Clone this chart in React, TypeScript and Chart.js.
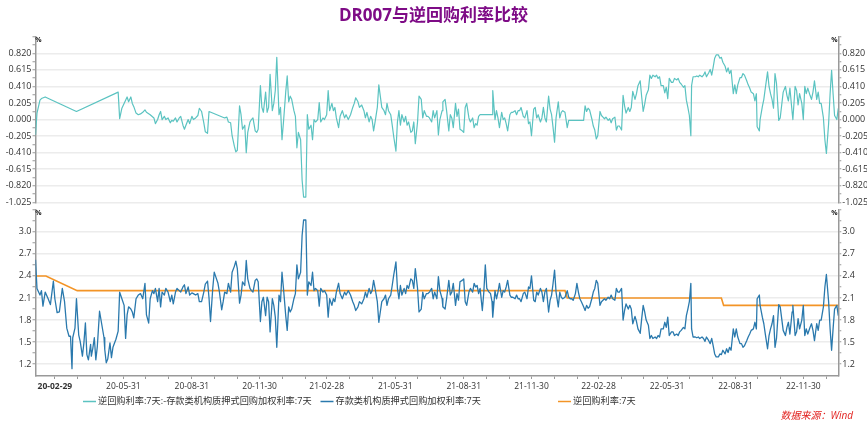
import React, { useEffect, useRef } from 'react';
import { Chart, registerables } from 'chart.js';

Chart.register(...registerables);

const FONT = "'Open Sans', 'Noto Sans CJK SC', sans-serif";
const W = 867;
const H = 421;

const TITLE = 'DR007与逆回购利率比较';
const SPREAD_LABEL = '逆回购利率:7天:-存款类机构质押式回购加权利率:7天';
const DR_LABEL = '存款类机构质押式回购加权利率:7天';
const REPO_LABEL = '逆回购利率:7天';
const SOURCE = '数据来源：Wind';

const TEAL = '#5bc3c1';
const BLUE = '#2a79ad';
const ORANGE = '#f39426';

// [month-day, DR007 (%), spread = reverse repo - DR007 (null = no value that day)]
type Row = [string, number, number | null];

const rows2020: Row[] = [
  ['02-03',2.62,-0.19],['02-05',2.23,0.08],['02-09',2.14,0.24],['02-11',2.20,0.26],['02-13',1.99,null],['02-16',2.18,0.28],
  ['02-20',2.09,null],['02-23',2.01,null],['02-27',2.33,null],['02-29',2.09,null],['03-03',1.90,null],['03-06',1.91,null],
  ['03-10',2.23,null],['03-13',2.05,null],['03-16',1.69,null],['03-19',1.58,null],['03-21',1.58,null],['03-23',1.14,null],
  ['03-24',1.56,null],['03-27',1.69,null],['03-29',2.09,0.10],['04-01',1.60,null],['04-03',1.51,null],['04-06',1.31,null],
  ['04-08',1.49,null],['04-10',1.76,null],['04-12',1.33,null],['04-14',1.26,null],['04-17',1.47,null],['04-18',1.31,null],
  ['04-20',1.42,null],['04-22',1.56,null],['04-24',1.26,null],['04-26',1.44,null],['04-29',1.92,null],['05-02',1.74,null],
  ['05-05',1.56,null],['05-06',1.40,null],['05-08',1.22,null],['05-10',1.27,null],['05-13',1.49,null],['05-15',1.29,null],
  ['05-17',1.43,null],['05-21',1.54,null],['05-24',1.65,0.34],['05-26',2.18,0.01],['05-29',2.09,0.14],['06-01',2.00,null],
  ['06-03',1.55,0.24],['06-05',1.87,0.28],['06-07',1.98,0.22],['06-10',1.95,0.28],['06-12',1.91,0.20],['06-14',1.83,0.16],
  ['06-17',2.09,0.08],['06-20',2.14,0.06],['06-23',2.16,0.07],['06-26',2.09,0.09],['06-29',2.30,0.12],['07-01',1.87,0.09],
  ['07-04',1.76,null],['07-06',2.09,0.06],['07-09',2.20,null],['07-11',2.16,0.02],['07-13',2.23,-0.05],['07-16',2.05,0.00],
  ['07-18',2.23,0.06],['07-20',1.98,0.10],['07-22',2.18,0.00],['07-25',2.14,0.04],['07-27',2.23,0.00],['07-30',2.18,0.02],
  ['08-02',2.05,-0.04],['08-04',2.14,-0.01],['08-06',2.02,-0.02],['08-09',2.18,0.02],['08-11',2.23,-0.03],['08-14',2.20,0.02],
  ['08-16',2.18,0.04],['08-19',2.25,-0.07],['08-21',2.28,-0.12],['08-23',2.16,-0.07],['08-26',2.25,0.00],['08-28',2.14,-0.05],
  ['08-31',2.17,0.04],['09-02',2.16,0.00],['09-05',2.14,0.02],['09-08',2.16,0.05],['09-10',2.05,0.14],['09-13',2.05,0.10],
  ['09-16',2.18,-0.04],['09-18',2.29,-0.15],['09-21',2.33,-0.17],['09-23',2.10,0.10],['09-25',1.78,null],['09-28',2.23,null],
  ['09-30',2.45,null],['10-02',2.39,null],['10-05',2.30,null],['10-07',2.18,null],['10-10',1.94,null],['10-12',2.05,null],
  ['10-14',2.18,0.02],['10-17',2.16,0.03],['10-19',2.30,-0.03],['10-22',2.18,-0.04],['10-24',2.45,-0.20],['10-27',2.53,-0.33],
  ['10-29',2.60,-0.40],['10-31',2.50,-0.38],['11-03',2.03,0.17],['11-05',2.14,0.06],['11-07',2.32,-0.12],['11-10',2.27,-0.07],
  ['11-12',2.61,-0.41],['11-14',2.36,-0.16],['11-17',2.23,-0.03],['11-19',2.20,0.00],['11-21',2.18,0.02],['11-24',2.34,-0.14],
  ['11-26',2.36,-0.16],['11-28',2.32,-0.12],['12-01',1.78,0.42],['12-03',2.05,0.15],['12-05',2.11,0.09],['12-08',1.86,0.34],
  ['12-10',2.11,0.09],['12-12',2.05,0.15],['12-14',1.64,0.56],['12-17',2.09,0.11],['12-19',2.00,0.20],['12-21',1.84,0.36],
  ['12-23',1.43,0.77],['12-26',2.14,0.06],['12-28',2.05,0.15],['12-30',2.45,-0.25],
];

const rows2021: Row[] = [
  ['01-01',2.23,-0.03],['01-04',1.86,0.34],['01-06',1.66,0.54],['01-08',1.98,0.22],['01-10',1.91,0.29],['01-12',1.95,0.25],
  ['01-15',2.09,0.11],['01-17',2.16,0.04],['01-19',2.55,-0.35],['01-21',2.36,-0.16],['01-24',2.45,-0.25],['01-26',2.95,-0.75],
  ['01-28',3.16,-0.96],['01-31',3.16,-0.96],['02-02',2.14,0.06],['02-04',2.32,-0.12],['02-07',2.27,-0.07],['02-09',2.45,-0.25],
  ['02-11',2.20,0.00],['02-13',2.23,-0.03],['02-16',2.20,0.00],['02-18',1.99,0.21],['02-20',2.23,-0.03],['02-23',2.18,0.02],
  ['02-25',2.20,0.00],['02-28',2.14,0.06],['03-02',1.84,0.36],['03-04',2.09,0.11],['03-07',2.00,0.20],['03-09',2.09,0.11],
  ['03-11',2.05,0.15],['03-13',2.18,0.02],['03-16',2.30,-0.10],['03-18',2.16,0.04],['03-21',2.09,0.11],['03-24',2.18,0.02],
  ['03-26',2.14,0.06],['03-29',2.20,0.00],['04-01',2.14,0.06],['04-04',2.05,0.15],['04-06',2.00,0.20],['04-08',1.93,0.27],
  ['04-11',1.98,0.22],['04-13',2.05,0.15],['04-16',2.02,0.18],['04-19',2.09,0.11],['04-21',2.18,0.02],['04-23',2.11,0.09],
  ['04-26',2.23,-0.03],['04-28',2.16,0.04],['04-30',2.20,0.00],['05-02',2.34,-0.14],['05-04',2.23,-0.03],['05-07',2.05,0.15],
  ['05-09',1.77,0.43],['05-11',1.91,0.29],['05-13',2.05,0.15],['05-16',2.09,0.11],['05-18',2.14,0.06],['05-20',2.00,0.20],
  ['05-22',2.09,0.11],['05-25',2.14,0.06],['05-27',2.27,-0.07],['05-29',2.41,-0.21],['06-01',2.59,-0.39],['06-03',2.23,-0.03],
  ['06-05',2.09,0.11],['06-07',2.27,-0.07],['06-09',2.14,0.06],['06-12',2.23,-0.03],['06-14',2.16,0.04],['06-16',2.27,-0.07],
  ['06-18',2.23,-0.03],['06-21',2.36,-0.16],['06-23',2.34,-0.14],['06-25',2.23,-0.03],['06-27',2.50,-0.30],['06-30',2.23,-0.03],
  ['07-02',1.91,0.29],['07-05',1.95,0.25],['07-07',2.18,0.02],['07-09',2.09,0.11],['07-12',2.16,0.04],['07-14',2.16,0.04],
  ['07-16',2.18,0.02],['07-19',2.23,-0.03],['07-21',2.09,0.11],['07-23',2.18,0.02],['07-26',2.09,0.11],['07-28',2.39,-0.19],
  ['07-30',2.20,0.00],['08-02',2.09,0.11],['08-03',1.98,0.22],['08-06',1.95,0.25],['08-08',2.09,0.11],['08-11',2.34,-0.14],
  ['08-13',2.14,0.06],['08-15',2.18,0.02],['08-17',2.30,-0.10],['08-20',2.00,0.20],['08-22',2.16,0.04],['08-24',2.07,0.13],
  ['08-26',2.32,-0.12],['08-29',2.34,-0.14],['08-31',2.36,-0.16],['09-02',2.05,0.15],['09-04',2.00,0.20],['09-07',2.18,0.02],
  ['09-09',2.23,-0.03],['09-12',2.18,0.02],['09-14',2.30,-0.10],['09-16',2.25,-0.05],['09-18',2.27,-0.07],['09-20',2.16,0.04],
  ['09-22',2.23,0.06],['09-25',1.93,null],['09-27',2.18,null],['09-29',2.55,null],['10-01',2.23,null],['10-04',2.18,null],
  ['10-06',2.16,null],['10-08',2.05,0.06],['10-09',1.84,0.36],['10-12',2.20,0.00],['10-14',2.09,0.11],['10-16',2.18,0.02],
  ['10-18',2.30,-0.10],['10-21',2.11,0.09],['10-23',2.20,0.00],['10-25',2.18,0.02],['10-27',2.25,-0.05],['10-29',2.34,-0.14],
  ['11-01',2.14,0.06],['11-03',2.11,0.09],['11-05',2.11,0.09],['11-08',2.09,0.11],['11-10',2.14,0.06],['11-12',2.09,0.11],
  ['11-14',2.09,0.11],['11-16',2.05,0.15],['11-19',2.16,0.04],['11-21',2.18,0.02],['11-24',2.09,0.11],['11-26',2.25,-0.05],
  ['11-28',2.23,-0.03],['11-30',2.40,-0.20],['12-03',2.07,0.13],['12-05',2.05,0.15],['12-07',2.18,0.02],['12-09',2.14,0.06],
  ['12-12',2.23,-0.03],['12-14',2.18,0.02],['12-16',2.05,0.15],['12-18',2.18,0.02],['12-20',2.23,-0.03],['12-23',1.91,0.29],
  ['12-25',2.07,0.13],['12-27',2.14,0.06],['12-29',2.30,-0.10],['12-31',2.48,-0.28],
];

const rows2022: Row[] = [
  ['01-02',2.18,0.02],['01-05',1.98,0.22],['01-07',2.18,0.02],['01-09',2.11,0.09],['01-11',2.09,0.11],['01-14',2.11,0.09],
  ['01-17',2.20,-0.10],['01-19',2.11,-0.01],['01-21',2.09,null],['01-23',2.09,null],['01-25',2.07,null],['01-28',2.16,null],
  ['01-30',2.30,null],['02-01',2.18,null],['02-03',2.09,null],['02-05',2.05,null],['02-08',1.98,-0.01],['02-10',1.93,0.17],
  ['02-12',2.00,0.10],['02-14',1.96,0.14],['02-16',1.98,0.12],['02-19',2.09,0.01],['02-21',2.18,-0.08],['02-23',2.23,-0.13],
  ['02-25',2.34,-0.24],['02-27',2.30,-0.20],['03-02',2.00,0.10],['03-04',2.05,0.05],['03-06',2.07,0.03],['03-08',2.09,0.01],
  ['03-10',2.07,0.03],['03-13',2.11,-0.01],['03-15',2.09,0.01],['03-17',2.14,-0.04],['03-19',2.09,0.01],['03-22',2.07,0.03],
  ['03-24',2.23,-0.13],['03-26',2.18,-0.08],['03-28',2.18,-0.08],['03-31',2.23,-0.13],['04-02',1.80,0.30],['04-04',1.93,0.17],
  ['04-06',2.02,0.08],['04-09',1.95,0.15],['04-11',2.00,0.10],['04-13',1.95,0.15],['04-15',1.75,0.35],['04-18',1.85,0.25],
  ['04-20',1.78,0.32],['04-22',1.68,0.42],['04-25',1.62,0.48],['04-27',1.82,0.28],['04-29',2.00,0.10],['05-01',1.91,0.19],
  ['05-03',1.80,0.30],['05-06',1.73,0.37],['05-08',1.55,0.55],['05-10',1.59,0.51],['05-12',1.55,0.55],['05-15',1.57,0.53],
  ['05-17',1.55,0.55],['05-19',1.59,0.51],['05-21',1.57,0.53],['05-23',1.68,0.42],['05-26',1.68,0.42],['05-28',1.77,0.33],
  ['05-30',1.70,0.40],['06-01',1.84,0.26],['06-03',1.59,0.51],['06-06',1.64,0.46],['06-08',1.64,0.46],['06-10',1.59,0.51],
  ['06-13',1.61,0.49],['06-15',1.59,0.51],['06-17',1.64,0.46],['06-19',1.66,0.44],['06-22',1.70,0.40],['06-24',1.68,0.42],
  ['06-26',1.86,0.24],['06-28',1.95,0.15],['06-30',2.05,0.05],['07-02',2.30,-0.20],['07-03',1.68,0.42],['07-05',1.57,0.53],
  ['07-08',1.57,0.53],['07-10',1.56,0.54],['07-12',1.57,0.53],['07-14',1.55,0.55],['07-17',1.57,0.53],['07-19',1.55,0.55],
  ['07-21',1.51,0.59],['07-23',1.57,0.53],['07-26',1.52,0.58],['07-28',1.48,0.62],['07-30',1.55,0.55],['08-01',1.45,0.65],
  ['08-03',1.34,0.76],['08-05',1.30,0.80],['08-08',1.30,0.80],['08-10',1.34,0.76],['08-12',1.33,0.77],['08-14',1.39,0.71],
  ['08-17',1.34,0.66],['08-19',1.41,0.59],['08-21',1.36,0.64],['08-23',1.43,0.57],['08-25',1.39,0.61],['08-28',1.68,0.32],
  ['08-30',1.57,0.43],['09-01',1.68,0.32],['09-03',1.57,0.43],['09-06',1.48,0.52],['09-08',1.48,0.52],['09-10',1.43,0.57],
  ['09-12',1.45,0.55],['09-15',1.52,0.48],['09-17',1.57,0.43],['09-19',1.61,0.39],['09-21',1.66,0.34],['09-24',1.68,0.32],
  ['09-26',1.77,0.23],['09-28',1.68,0.32],['09-29',2.09,-0.09],['10-02',2.14,-0.14],['10-03',2.00,0.00],['10-06',1.84,0.16],
  ['10-08',1.75,0.25],['10-10',1.61,0.39],['10-13',1.41,0.59],['10-15',1.59,0.41],['10-17',1.68,0.32],['10-19',1.75,0.25],
  ['10-21',1.86,0.14],['10-23',1.43,0.57],['10-25',1.55,0.45],['10-28',2.01,-0.01],['10-30',1.98,0.02],['11-01',1.82,0.18],
  ['11-03',1.66,0.34],['11-06',1.59,0.41],['11-08',1.70,0.30],['11-10',1.77,0.23],['11-12',1.61,0.39],['11-15',1.91,0.09],
  ['11-16',2.00,0.00],['11-19',1.59,0.41],['11-21',1.64,0.36],['11-23',1.82,0.18],['11-25',1.68,0.32],['11-28',1.80,0.20],
  ['11-30',2.00,0.00],['12-02',1.59,0.41],['12-04',1.68,0.32],['12-06',1.61,0.39],['12-09',1.70,0.30],['12-11',1.75,0.25],
  ['12-13',1.66,0.34],['12-15',1.52,0.48],['12-18',1.75,0.25],['12-20',1.66,0.34],['12-22',1.80,0.20],['12-24',1.80,0.20],
  ['12-27',1.98,0.02],['12-29',2.25,-0.25],['12-31',2.42,-0.42],
];

const rows2023: Row[] = [
  ['01-03',2.05,-0.05],['01-05',1.68,0.32],['01-07',1.39,0.61],['01-09',1.68,0.32],['01-11',1.95,0.05],['01-14',2.00,0.00],
  ['01-16',1.86,0.14],
];

// 7-day reverse repo rate (step series)
const repoDates = ['2020-02-03','2020-02-17','2020-03-30','2022-01-14','2022-01-17','2022-08-12','2022-08-15','2023-01-16'];
const repoValues = [2.4, 2.4, 2.2, 2.2, 2.1, 2.1, 2.0, 2.0];

// axis tick labels
const xTickLabels = ['20-02-29','20-05-31','20-08-31','20-11-30','21-02-28','21-05-31','21-08-31','21-11-30','22-02-28','22-05-31','22-08-31','22-11-30'];
const topAxisTicks = [-1.025, -0.82, -0.615, -0.41, -0.205, 0, 0.205, 0.41, 0.615, 0.82];
const TOP_MAX = 1.025;
const TOP_MIN = -1.025;
const bottomAxisTicks = [1.2, 1.5, 1.8, 2.1, 2.4, 2.7, 3.0];
const BOT_MAX = 3.3;
const BOT_MIN = 1.04;

const BASE = Date.UTC(2020, 0, 1);
const dayOf = (s: string) => {
  const [y, m, d] = s.split('-').map(Number);
  return Math.round((Date.UTC(y, m - 1, d) - BASE) / 86400000);
};

const allRows: Row[] = [
  ...rows2020.map((r) => ['2020-' + r[0], r[1], r[2]] as Row),
  ...rows2021.map((r) => ['2021-' + r[0], r[1], r[2]] as Row),
  ...rows2022.map((r) => ['2022-' + r[0], r[1], r[2]] as Row),
  ...rows2023.map((r) => ['2023-' + r[0], r[1], r[2]] as Row),
];

const X_MIN = dayOf(allRows[0][0]);
const X_MAX = dayOf(allRows[allRows.length - 1][0]);

const drData = allRows.map((r) => ({ x: dayOf(r[0]), y: r[1] }));
const spreadData = allRows.filter((r) => r[2] !== null).map((r) => ({ x: dayOf(r[0]), y: r[2] as number }));
const repoData = repoDates.map((d, i) => ({ x: dayOf(d), y: repoValues[i] }));

// x ticks: labelled quarter ends + unlabelled month ends
const xLabelMap = new Map<number, string>();
xTickLabels.forEach((l) => xLabelMap.set(dayOf('20' + l), l));
const xTickValues: number[] = [];
for (let y = 2020; y <= 2023; y++) {
  for (let m = 0; m < 12; m++) {
    const d = Math.round((Date.UTC(y, m + 1, 0) - BASE) / 86400000);
    if (d >= X_MIN && d <= X_MAX) xTickValues.push(d);
  }
}

function buildYTicks(majors: number[], max: number, digits: number) {
  const all = [...majors, max];
  const values: number[] = [];
  const labels: string[] = [];
  const major: boolean[] = [];
  all.forEach((v, i) => {
    const isM = i < majors.length;
    values.push(v);
    labels.push(isM ? v.toFixed(digits) : '');
    major.push(isM);
    if (i < all.length - 1) {
      values.push((v + all[i + 1]) / 2);
      labels.push('');
      major.push(false);
    }
  });
  return { values, labels, major };
}

const topY = buildYTicks(topAxisTicks, TOP_MAX, 3);
const botY = buildYTicks(bottomAxisTicks, BOT_MAX, 1);

function yAxis(position: 'left' | 'right', spec: { values: number[]; labels: string[]; major: boolean[] }, min: number, max: number) {
  return {
    type: 'linear',
    position,
    min,
    max,
    afterFit: (s: any) => {
      s.width = position === 'left' ? 35.5 : 28.7;
    },
    afterBuildTicks: (s: any) => {
      s.ticks = spec.values.map((v) => ({ value: v }));
    },
    ticks: {
      autoSkip: false,
      padding: 1,
      color: '#333',
      font: { size: 9, family: FONT },
      callback: (_v: any, i: number) => spec.labels[i],
    },
    grid: {
      drawOnChartArea: position === 'left',
      color: (c: any) => (spec.major[c.index] ? '#ececec' : 'rgba(0,0,0,0)'),
      lineWidth: 1.5,
      tickLength: 3,
      tickColor: '#999',
      tickWidth: 1,
    },
    border: { color: '#999', width: 1.5 },
  };
}

function xAxis(display: boolean) {
  return {
    type: 'linear',
    display,
    min: X_MIN,
    max: X_MAX,
    afterFit: (s: any) => {
      s.height = display ? 45 : 0;
    },
    afterBuildTicks: (s: any) => {
      s.ticks = xTickValues.map((v) => ({ value: v }));
    },
    ticks: {
      autoSkip: false,
      maxRotation: 0,
      minRotation: 0,
      padding: 2,
      color: '#333',
      font: (c: any) => ({ size: 8.5, family: FONT, weight: c.index === 0 ? 'bold' : 'normal' }),
      callback: (v: any) => xLabelMap.get(v) ?? '',
    },
    grid: { drawOnChartArea: false, drawTicks: true, tickLength: 3, tickColor: '#999' },
    border: { color: '#999', width: 1.5 },
  };
}

const pctPlugin = {
  id: 'pctMarks',
  afterDraw(chart: any) {
    const { ctx, chartArea: a } = chart;
    ctx.save();
    ctx.font = `bold 7px ${FONT}`;
    ctx.fillStyle = '#222';
    ctx.textAlign = 'center';
    ctx.textBaseline = 'middle';
    ctx.fillText('%', a.left + 3, a.top + 3.5);
    ctx.fillText('%', a.right - 4, a.top + 3.5);
    ctx.restore();
  },
};

const legendItems = [
  { label: SPREAD_LABEL, color: TEAL },
  { label: DR_LABEL, color: BLUE },
  { label: REPO_LABEL, color: ORANGE },
];

const footerPlugin = {
  id: 'footer',
  afterDraw(chart: any) {
    const { ctx, chartArea: a } = chart;
    ctx.save();
    const y = 401.5;
    ctx.font = `9.2px ${FONT}`;
    ctx.textBaseline = 'middle';
    ctx.textAlign = 'left';
    legendItems.forEach((it, i) => {
      const x0 = a.left + 47.5 + i * 237.5;
      ctx.strokeStyle = it.color;
      ctx.lineWidth = 1.5;
      ctx.beginPath();
      ctx.moveTo(x0, y);
      ctx.lineTo(x0 + 13, y);
      ctx.stroke();
      ctx.fillStyle = '#333';
      ctx.fillText(it.label, x0 + 15, y);
    });
    ctx.font = `italic 10px ${FONT}`;
    ctx.fillStyle = '#e2221f';
    ctx.textAlign = 'right';
    ctx.fillText(SOURCE, W - 14, 416.5);
    ctx.restore();
  },
};

export default function App() {
  const topRef = useRef<HTMLCanvasElement>(null);
  const botRef = useRef<HTMLCanvasElement>(null);

  useEffect(() => {
    const common = {
      animation: false,
      responsive: false,
      devicePixelRatio: 1,
      events: [],
    };
    const top = new Chart(topRef.current as HTMLCanvasElement, {
      type: 'line',
      data: {
        datasets: [
          {
            label: SPREAD_LABEL,
            data: spreadData,
            borderColor: TEAL,
            backgroundColor: TEAL,
            borderWidth: 1.2,
            pointRadius: 0,
            borderJoinStyle: 'round',
            yAxisID: 'y',
          },
        ],
      },
      options: {
        ...common,
        layout: { padding: { top: 0, bottom: H - 202.3, left: 0, right: 0 } },
        plugins: {
          legend: { display: false },
          tooltip: { enabled: false },
          title: {
            display: true,
            text: TITLE,
            color: '#7e0b86',
            font: { size: 17, weight: 'bold', family: FONT },
            padding: { top: 6, bottom: 10.4 },
          },
        },
        scales: {
          x: xAxis(false),
          y: yAxis('left', topY, TOP_MIN, TOP_MAX),
          y2: yAxis('right', topY, TOP_MIN, TOP_MAX),
        },
      } as any,
      plugins: [pctPlugin],
    });

    const bot = new Chart(botRef.current as HTMLCanvasElement, {
      type: 'line',
      data: {
        datasets: [
          {
            label: DR_LABEL,
            data: drData,
            borderColor: BLUE,
            backgroundColor: BLUE,
            borderWidth: 1.3,
            pointRadius: 0,
            borderJoinStyle: 'round',
            yAxisID: 'y',
          },
          {
            label: REPO_LABEL,
            data: repoData,
            borderColor: ORANGE,
            backgroundColor: ORANGE,
            borderWidth: 1.6,
            pointRadius: 0,
            yAxisID: 'y',
          },
        ],
      },
      options: {
        ...common,
        layout: { padding: { top: 209.7, bottom: 0, left: 0, right: 0 } },
        plugins: {
          legend: { display: false },
          tooltip: { enabled: false },
          title: { display: false },
        },
        scales: {
          x: xAxis(true),
          y: yAxis('left', botY, BOT_MIN, BOT_MAX),
          y2: yAxis('right', botY, BOT_MIN, BOT_MAX),
        },
      } as any,
      plugins: [pctPlugin, footerPlugin],
    });

    return () => {
      top.destroy();
      bot.destroy();
    };
  }, []);

  return (
    <div style={{ position: 'absolute', left: 0, top: 0, width: W, height: H, background: '#fff' }}>
      <canvas ref={topRef} width={W} height={H} style={{ position: 'absolute', left: 0, top: 0 }} />
      <canvas ref={botRef} width={W} height={H} style={{ position: 'absolute', left: 0, top: 0 }} />
    </div>
  );
}
